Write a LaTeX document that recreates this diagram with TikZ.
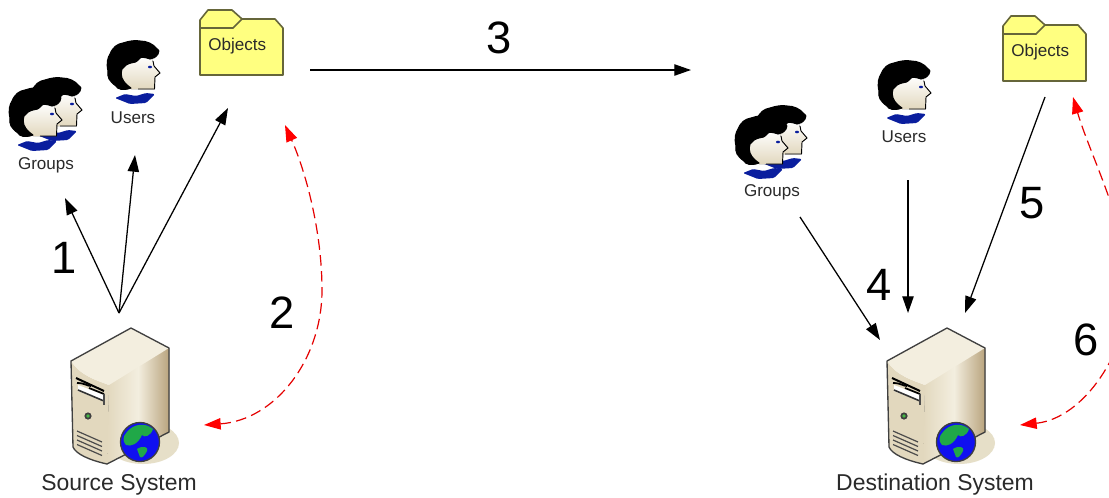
\documentclass[tikz,border=0pt]{standalone}
\usepackage{fontspec}
\setmainfont{Liberation Sans}
\usetikzlibrary{arrows.meta}
\definecolor{foldery}{HTML}{FFFF80}
\definecolor{foldere}{HTML}{66663A}
\definecolor{srvlight}{HTML}{F3EEDF}
\definecolor{srvmid}{HTML}{E2D8BE}
\definecolor{srvdark}{HTML}{B9A47E}
\definecolor{srvshadow}{HTML}{E6DFC8}
\definecolor{collar}{HTML}{0A1E9E}
\definecolor{globeblue}{HTML}{1010F0}
\definecolor{globegreen}{HTML}{20A848}
\definecolor{txt}{HTML}{2A2A2A}
\tikzset{
  px/.style={x=0.75pt,y=-0.75pt},
  tipb/.tip={Triangle[length=12.5pt,width=8.5pt]},
  tipr/.tip={Triangle[length=12.5pt,width=8.5pt,fill=red,color=red]},
  arr/.style={black,line width=0.95pt,-tipb},
  redarr/.style={red!90!black,line width=0.9pt,dash pattern=on 8pt off 4pt,tipr-tipr},
  numlabel/.style={font=\fontsize{34}{36}\selectfont,text=black,inner sep=0pt},
  smalllabel/.style={font=\fontsize{12.8}{14}\selectfont,text=txt,inner sep=0pt},
  syslabel/.style={font=\fontsize{17.2}{19}\selectfont,text=txt,inner sep=0pt},
  person/.pic={
    \fill[collar,rounded corners=1pt] (8,57) -- (18,53) -- (29,55) -- (39,52) -- (48,53) -- (39,62) -- (23,63) -- cycle;
    \fill[top color=white,bottom color=srvmid] (15,26) -- (33,15) -- (45,18) -- (47,25) -- (53,32) -- (48,36) -- (47.5,48) -- (24,48) -- (14,40) -- cycle;
    \draw[black,line width=0.7pt] (46,20) -- (47,25) -- (53,32) -- (48,36) -- (47.5,48) -- (31,48);
    \fill[black,draw=black,line width=0.8pt,line join=round] (24,47) .. controls (16,50) and (10,48) .. (9,45)
      .. controls (2,40) and (0,36) .. (1,30)
      .. controls (-1,22) and (1,16) .. (3,13)
      .. controls (6,6) and (10,3) .. (16,2)
      .. controls (22,0) and (28,-1) .. (33,0)
      .. controls (40,0) and (46,3) .. (49,7)
      .. controls (52,9) and (53,11) .. (51,13)
      .. controls (49,16) and (46,18) .. (43,18)
      .. controls (38,16) and (34,16) .. (33,17)
      .. controls (30,21) and (27,22) .. (24,22)
      .. controls (20,23) and (17,25) .. (15,28)
      .. controls (14,32) and (14,35) .. (15,37)
      .. controls (17,42) and (21,45) .. (24,47) -- cycle;
    \fill[collar] (43,26) ellipse (2 and 1.3);
  },
  folderpic/.pic={
    \fill[foldery,draw=foldere,line width=1.2pt,line join=round] (0,10) -- (8,0) -- (32,0) -- (42,9) -- (75,9) -- (83,18) -- (83,65) -- (0,65) -- cycle;
    \draw[foldere,line width=1.2pt] (0,18) -- (33,18) -- (42,9);
  },
  serverpic/.pic={
    \fill[srvshadow] (72,115) ellipse (36 and 21);
    \fill[left color=srvmid,right color=srvdark,middle color=srvlight] (38,52) -- (98,20) -- (98,104) -- (36,136) -- cycle;
    \fill[srvmid] (0,33) .. controls (10,48) and (25,52) .. (38,57) -- (36,136) .. controls (18,132) and (5,126) .. (2,119) -- cycle;
    \fill[srvlight] (0,33) -- (60,0) -- (98,20) -- (38,57) .. controls (25,52) and (10,48) .. (0,33) -- cycle;
    \draw[black!75,line width=1pt,line join=round] (0,33) -- (60,0) -- (98,20) -- (98,104) -- (36,136) .. controls (18,132) and (5,126) .. (2,119) -- cycle;
    % drive bays
    \draw[black,line width=1.5pt] (5,50) -- (33,63);
    \fill[white] (7,57) -- (33,67) -- (33,73) -- (7,63) -- cycle;
    \draw[black,line width=1.3pt] (6,55) .. controls (14,55) and (16,58) .. (20,58) (18,60) -- (33,66);
    \draw[black!80,line width=1.2pt] (7,62) -- (33,73);
    \draw[black!70,line width=1pt] (33,66) -- (33,77);
    % LED
    \fill[black!75] (17,88) circle (3.6);
    \fill[green!45!gray] (17,88) circle (1.8);
    % vents
    \foreach \d in {0,4.5,9,13.5}{\draw[black!70,line width=0.9pt] (6,{103+\d}) -- (31,{114+\d});}
    % globe
    \fill[globeblue,draw=black!75,line width=1pt] (69,114) circle (19.5);
    \fill[globegreen] (56,104) .. controls (62,96) and (74,94) .. (82,101) .. controls (80,108) and (73,110) .. (71,107) .. controls (67,116) and (60,119) .. (55,117) .. controls (51,113) and (52,108) .. (56,104) -- cycle;
    \fill[globegreen] (66,121) .. controls (72,117) and (78,119) .. (76,123) .. controls (74,127) and (71,131) .. (69,129) -- cycle;
  }
}
\begin{document}
\begin{tikzpicture}[px]
\clip (0,0) rectangle (1109,497);
\fill[white] (0,0) rectangle (1109,497);

% left side
\pic at (29,78) {person};
\pic at (9,88) {person};
\pic at (107,41) {person};
\pic at (200,10) {folderpic};
\pic at (71,328) {serverpic};
\node[smalllabel] (groupsL) at (46,165) {Groups};
\node[smalllabel] (usersL) at (133,118) {Users};
\node[smalllabel,anchor=west] (objectsL) at (208,46) {Objects};
\node[syslabel] (srcL) at (119,485) {Source System};

% right side
\pic at (754,106) {person};
\pic at (735,116) {person};
\pic at (878,61) {person};
\pic at (1003,16) {folderpic};
\pic at (887,328) {serverpic};
\node[smalllabel] (groupsR) at (772,192) {Groups};
\node[smalllabel] (usersR) at (904,137) {Users};
\node[smalllabel,anchor=west] (objectsR) at (1011,52) {Objects};
\node[syslabel] (dstL) at (935,485) {Destination System};

% numbers
\node[numlabel] (n1) at (64,258) {1};
\node[numlabel] (n2) at (282,313) {2};
\node[numlabel] (n3) at (499,38) {3};
\node[numlabel] (n4) at (879,285) {4};
\node[numlabel] (n5) at (1032,203) {5};
\node[numlabel] (n6) at (1086,340) {6};

% connector ends
\coordinate (srcHub) at (119,313);
\coordinate (toGroups) at (65,198);
\coordinate (toUsers) at (135,155);
\coordinate (toObjects) at (228,108);
\coordinate (xferA) at (310,70);
\coordinate (xferB) at (691,70);
\coordinate (gR) at (800,217);
\coordinate (gRend) at (880,340);
\coordinate (uR) at (908,180);
\coordinate (uRend) at (908,313);
\coordinate (oR) at (1045,97);
\coordinate (oRend) at (965,313);
\coordinate (r1a) at (204,425);
\coordinate (r1b) at (322,290);
\coordinate (r1c) at (285,125);
\coordinate (r2a) at (1020,425);
\coordinate (r2b) at (1130,290);
\coordinate (r2c) at (1073,97);

\draw[arr] (srcHub) -- (toGroups);
\draw[arr] (srcHub) -- (toUsers);
\draw[arr] (srcHub) -- (toObjects);
\draw[arr] (xferA) -- (xferB);
\draw[arr] (gR) -- (gRend);
\draw[arr] (uR) -- (uRend);
\draw[arr] (oR) -- (oRend);

\draw[redarr] (r1a) .. controls (275,420) and (322,360) .. (r1b) .. controls (322,230) and (305,170) .. (r1c);
\draw[redarr] (r2a) .. controls (1085,418) and (1128,350) .. (r2b) .. controls (1125,220) and (1090,155) .. (r2c);
\end{tikzpicture}
\end{document}
